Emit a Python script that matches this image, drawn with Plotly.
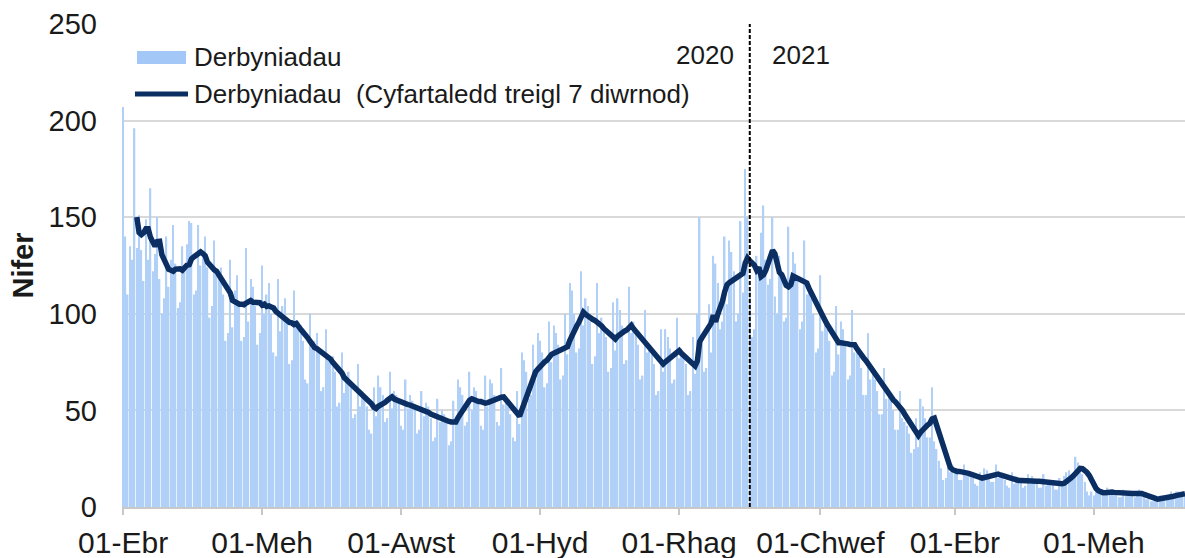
import pandas as pd
import plotly.graph_objects as go

# ---------------- data ----------------
start_date = "2020-04-01"

daily_admissions = [
    207, 140, 110, 135, 128, 196, 134,
    151, 133, 117, 149, 128, 165, 122,
    131, 150, 118, 100, 108, 140, 114,
    128, 146, 126, 103, 106, 135, 124,
    136, 148, 147, 110, 112, 146, 125,
    130, 140, 124, 98, 104, 138, 120,
    118, 124, 110, 86, 90, 128, 93,
    112, 120, 106, 86, 88, 134, 96,
    118, 114, 104, 84, 90, 125, 100,
    110, 116, 100, 80, 78, 118, 91,
    104, 108, 96, 74, 76, 112, 95,
    96, 94, 86, 66, 64, 100, 82,
    86, 90, 80, 60, 62, 92, 76,
    76, 78, 70, 52, 54, 80, 59,
    68, 70, 62, 46, 48, 74, 52,
    60, 58, 52, 40, 38, 62, 47,
    68, 62, 58, 44, 46, 70, 51,
    60, 58, 54, 42, 40, 66, 51,
    58, 55, 52, 38, 40, 60, 47,
    54, 52, 46, 34, 36, 56, 44,
    50, 48, 44, 32, 34, 55, 45,
    66, 62, 58, 42, 44, 70, 50,
    62, 60, 54, 42, 40, 68, 52,
    66, 64, 58, 44, 42, 72, 53,
    56, 52, 48, 36, 34, 60, 43,
    80, 76, 70, 56, 58, 84, 66,
    90, 86, 80, 62, 64, 96, 75,
    94, 90, 84, 66, 68, 100, 79,
    116, 112, 100, 80, 82, 122, 94,
    108, 104, 96, 74, 78, 116, 90,
    98, 94, 88, 70, 72, 106, 81,
    108, 102, 94, 74, 76, 114, 90,
    96, 92, 84, 66, 68, 102, 80,
    84, 80, 74, 58, 60, 92, 70,
    92, 88, 82, 64, 66, 98, 77,
    82, 80, 74, 58, 60, 88, 69,
    100, 150, 88, 70, 72, 105, 80,
    130, 126, 116, 92, 96, 140, 105,
    138, 132, 122, 96, 100, 148, 111,
    175, 150, 112, 88, 92, 130, 121,
    142, 156, 128, 115, 118, 150, 109,
    100, 130, 120, 96, 98, 145, 116,
    132, 126, 118, 92, 96, 138, 110,
    112, 108, 100, 80, 82, 120, 91,
    96, 92, 86, 68, 70, 104, 79,
    96, 92, 84, 66, 68, 102, 80,
    82, 78, 72, 58, 58, 90, 66,
    70, 66, 60, 48, 48, 72, 56,
    58, 56, 50, 40, 40, 60, 46,
    44, 42, 38, 28, 30, 46, 31,
    56, 52, 46, 36, 36, 62, 34,
    30, 24, 20, 14, 15, 22, 18,
    22, 20, 18, 14, 14, 22, 16,
    18, 17, 15, 12, 11, 18, 14,
    20, 19, 17, 13, 13, 22, 15,
    17, 16, 14, 11, 10, 18, 12,
    16, 15, 14, 10, 11, 17, 12,
    16, 14, 13, 10, 10, 17, 11,
    14, 13, 12, 9, 9, 15, 12,
    16, 18, 19, 16, 17, 26, 23,
    21, 17, 13, 8, 6, 8, 6,
    9, 9, 8, 6, 6, 10, 7,
    8, 8, 7, 5, 5, 9, 7,
    8, 8, 7, 5, 6, 9, 6,
    5, 4, 4, 3, 3, 6, 3,
    6, 6, 6, 4, 4, 8, 5,
    8, 8, 7, 6, 6,
]

tick_dates = ["2020-04-01", "2020-06-01", "2020-08-01", "2020-10-01",
              "2020-12-01", "2021-02-01", "2021-04-01", "2021-06-01"]
tick_labels = ["01-Ebr", "01-Meh", "01-Awst", "01-Hyd",
               "01-Rhag", "01-Chwef", "01-Ebr", "01-Meh"]
y_ticks = [0, 50, 100, 150, 200, 250]
year_split = "2021-01-01"
year_labels = ["2020", "2021"]

bar_name = "Derbyniadau"
line_name = "Derbyniadau\u00a0 (Cyfartaledd treigl 7 diwrnod)"

# ---------------- derived ----------------
dates = pd.date_range(start_date, periods=len(daily_admissions), freq="D")
rolling_7day = pd.Series(daily_admissions).rolling(7).mean()

FONT = "Liberation Sans, Arial, sans-serif"
BAR_COLOR = "#b0d0f8"
LINE_COLOR = "#0b2e63"
TEXT_COLOR = "#1a1a1a"

fig = go.Figure()
fig.add_trace(go.Bar(
    x=dates, y=daily_admissions, name=bar_name,
    marker=dict(color=BAR_COLOR, line=dict(width=0)),
    showlegend=False,
))
fig.add_trace(go.Scatter(
    x=dates, y=rolling_7day, mode="lines", name=line_name,
    line=dict(color=LINE_COLOR, width=5.5),
    showlegend=False,
))

# year split marker
fig.add_shape(type="line", xref="x", yref="y",
              x0=year_split, x1=year_split, y0=0, y1=250,
              line=dict(color="black", width=2, dash="4px,2px"))
fig.add_annotation(x=year_split, y=234, xref="x", yref="y", text=year_labels[0],
                   showarrow=False, xanchor="right", yanchor="middle", xshift=-14,
                   font=dict(family=FONT, size=26, color=TEXT_COLOR))
fig.add_annotation(x=year_split, y=234, xref="x", yref="y", text=year_labels[1],
                   showarrow=False, xanchor="left", yanchor="middle", xshift=20,
                   font=dict(family=FONT, size=26, color=TEXT_COLOR))

# legend (drawn in the plot's top-left corner, as in the reference)
fig.add_shape(type="rect", xref="paper", yref="paper",
              x0=0.0141, x1=0.0602, y0=0.9172, y1=0.9441,
              line=dict(width=0), fillcolor="#a3c8f8")
fig.add_shape(type="line", xref="paper", yref="paper",
              x0=0.0122, x1=0.0621, y0=0.855, y1=0.855,
              line=dict(color=LINE_COLOR, width=5))
fig.add_annotation(x=0.0659, y=0.9317, xref="paper", yref="paper", text=bar_name,
                   showarrow=False, xanchor="left", yanchor="middle",
                   font=dict(family=FONT, size=26, color=TEXT_COLOR))
fig.add_annotation(x=0.0659, y=0.855, xref="paper", yref="paper", text=line_name,
                   showarrow=False, xanchor="left", yanchor="middle",
                   font=dict(family=FONT, size=26, color=TEXT_COLOR))

fig.update_layout(
    width=1185, height=558, autosize=False,
    margin=dict(l=122, r=0, t=24, b=51, pad=0),
    paper_bgcolor="white", plot_bgcolor="white",
    bargap=0.35,
    font=dict(family=FONT, color=TEXT_COLOR),
    showlegend=False,
    xaxis=dict(
        type="date",
        range=["2020-03-31 12:00", "2021-07-11 00:00"],
        tickvals=tick_dates, ticktext=tick_labels,
        ticks="outside", ticklen=6, tickwidth=1.5, tickcolor="#c8c8c8",
        showline=True, linecolor="#c8c8c8", linewidth=1.5,
        showgrid=False, zeroline=False, automargin=False,
        tickfont=dict(family=FONT, size=30, color=TEXT_COLOR),
        ticklabelstandoff=2,
    ),
    yaxis=dict(
        range=[0, 250], tickvals=y_ticks,
        showgrid=True, gridcolor="#d9d9d9", gridwidth=1.5,
        zeroline=False, showline=False, automargin=False,
        tickfont=dict(family=FONT, size=29, color=TEXT_COLOR),
        ticklabelstandoff=24,
        title=dict(text="<b>Nifer</b>", font=dict(family=FONT, size=29, color=TEXT_COLOR),
                   standoff=6),
    ),
)

fig.write_html(
    "out.html",
    config={"displayModeBar": False},
    post_script="document.body.style.margin='0';document.body.style.overflow='hidden';",
)
